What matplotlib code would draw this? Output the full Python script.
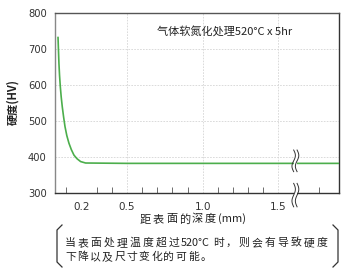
import numpy as np
import matplotlib
matplotlib.use('Agg')
import matplotlib.pyplot as plt
from matplotlib.patches import Rectangle
from matplotlib.lines import Line2D

plt.rcParams['font.family'] = ['Noto Sans CJK SC', 'DejaVu Sans']

# data
depth = [0.045, 0.048, 0.051, 0.055, 0.060, 0.066, 0.073, 0.082, 0.091, 0.103,
		 0.117, 0.133, 0.150, 0.170, 0.194, 0.227, 0.5, 1.0, 1.5, 1.9]
hardness = [732, 695, 660, 627, 596, 567, 540, 511, 485, 460,
			439, 421, 406, 396, 388, 384, 383, 383, 383, 383]

xticks = [0.2, 0.5, 1.0, 1.5]
xticklabels = ['0.2', '0.5', '1.0', '1.5']
minor_x = [0.1, 0.2, 0.3, 0.4, 0.6, 0.7, 0.8, 0.9, 1.1, 1.2, 1.3, 1.4, 1.77]
yticks = [300, 400, 500, 600, 700, 800]

note_line1 = ['当', '表', '面', '处', '理', '温', '度', '超', '过', '520°C', '时', '，', '则', '会', '有', '导', '致', '硬', '度']
note_line2 = ['下', '降', '以', '及', '尺', '寸', '变', '化', '的', '可', '能', '。']
xlabel_parts = ['距', '表', '面', '的', '深', '度', '(mm)']

num_font = ['Liberation Sans Narrow', 'DejaVu Sans']
W, H = 352.0, 273.0


def fx(px):
	return px / W


def fy(py):
	return 1 - py / H


def spaced_text(fig, parts, x0, y, step, size, gap=3, weight='normal'):
	''' places characters with a fixed advance, ascii chunks get their measured width'''
	renderer = fig.canvas.get_renderer()
	x = x0
	for p in parts:
		if p.isascii() or '°' in p:
			t = fig.text(fx(x), fy(y), p, fontsize=size, ha='left', va='center',
						 color='#222222', fontweight=weight)
			x += t.get_window_extent(renderer).width + gap
		else:
			fig.text(fx(x), fy(y), p, fontsize=size, ha='left', va='center',
					 color='#222222', fontweight=weight)
			x += step


def break_mark(ax, x, y, h):
	''' draws a pair of wavy break lines in axes coords'''
	t = np.linspace(-1, 1, 40)
	for dx in (-0.006, 0.006):
		xs = x + dx + 0.006 * np.sin(t * np.pi)
		ys = y + t * h / 2
		ax.plot(xs, ys, color='#333333', lw=0.7, transform=ax.transAxes,
				clip_on=False, zorder=5)


def bracket(fig, x, y0, y1, d):
	''' draws a thin round bracket in pixel coords'''
	t = np.linspace(0, 1, 12)
	top_x = x + d * (1 - np.cos(t * np.pi / 2))[::-1]
	top_y = y0 + 5 * np.sin(t * np.pi / 2)
	xs = np.concatenate([top_x, [x, x], top_x[::-1]])
	ys = np.concatenate([top_y, [y0 + 5, y1 - 5], (y1 - (top_y - y0))[::-1]])
	fig.add_artist(Line2D(xs / W, 1 - ys / H, color='#333333', lw=0.9))


def main():
	fig = plt.figure()
	fig.set_size_inches(3.52, 2.73)
	fig.set_dpi(100)
	ax = fig.add_axes([fx(55), fy(193.3), fx(339) - fx(55), fy(13) - fy(193.3)])

	ax.plot(depth, hardness, color='#4cae4c', lw=1.2, zorder=3)

	ax.set_xlim(0.025, 1.9)
	ax.set_ylim(300, 800)

	# grid
	for v in [400, 500, 600, 700]:
		ax.axhline(v, color='#d5d5d5', lw=0.6, linestyle=(0, (2, 1.5)), zorder=1)
	for v in [0.5, 1.0, 1.5]:
		ax.axvline(v, color='#d5d5d5', lw=0.6, linestyle=(0, (2, 1.5)), zorder=1)

	ax.set_xticks(xticks)
	ax.set_xticklabels(xticklabels, family=num_font, fontsize=7.5, color='#333333')
	ax.set_xticks(minor_x, minor=True)
	ax.tick_params(axis='x', which='major', length=0, pad=6)
	ax.tick_params(axis='x', which='minor', direction='in', length=4, width=0.6, color='#555555')

	ax.set_yticks(yticks)
	ax.set_yticklabels([str(v) for v in yticks], family=num_font, fontsize=7.2, color='#333333')
	ax.tick_params(axis='y', length=0, pad=6)

	for s in ax.spines.values():
		s.set_linewidth(1.0)
		s.set_color('#333333')
	ax.spines['left'].set_color('#888888')
	ax.spines['top'].set_color('#555555')

	# break marks with white gaps
	xb = (1.612 - 0.025) / (1.9 - 0.025)
	ax.add_patch(Rectangle((xb - 0.006, 0.13), 0.012, 0.1, transform=ax.transAxes,
				 facecolor='white', edgecolor='none', zorder=4))
	ax.add_patch(Rectangle((xb - 0.006, -0.03), 0.012, 0.05, transform=ax.transAxes,
				 facecolor='white', edgecolor='none', zorder=4, clip_on=False))
	break_mark(ax, xb, 0.18, 0.12)
	break_mark(ax, xb, -0.01, 0.13)

	ax.text(fx(225), fy(32), '气体软氮化处理520°C x 5hr', transform=fig.transFigure,
			ha='center', va='center', fontsize=8, color='#222222')

	# y label
	fig.text(fx(13), fy(102), '硬度(HV)', rotation=90, fontsize=8, fontweight='bold',
			 color='#222222', ha='center', va='center')

	# x label, letter spaced
	spaced_text(fig, xlabel_parts, 140, 219, 13, 8, gap=0)

	# note with brackets
	spaced_text(fig, note_line1, 65, 243, 12.9, 7.8)
	spaced_text(fig, note_line2, 65, 257, 12.3, 7.8)
	bracket(fig, 57, 225, 267, 5)
	bracket(fig, 338, 225, 267, -5)

	plt.savefig('out.png', dpi=100)
	plt.close()

	return


if __name__ == '__main__':
	main()
